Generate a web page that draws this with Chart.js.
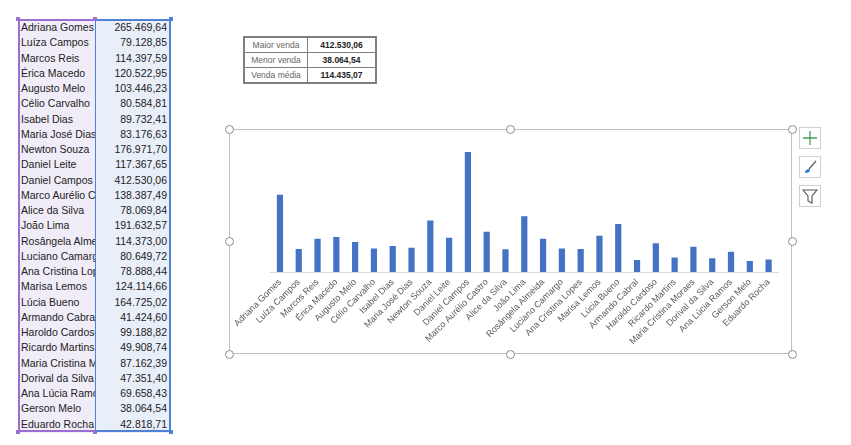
<!DOCTYPE html>
<html>
<head>
<meta charset="utf-8">
<script src="https://cdn.jsdelivr.net/npm/chart.js@4"></script>
<style>
    body { margin: 0; background: #fff; font-family: "Liberation Sans", Arial, sans-serif; }
    #page { position: relative; width: 851px; height: 445px; overflow: hidden; }
    .row { position: absolute; left: 18px; height: 15.8px; font-size: 10.5px; color: #222; line-height: 15.8px; }
    .nome { position: absolute; left: 0; width: 74px; padding-left: 3px; height: 16px; background: #f1edf8; white-space: nowrap; overflow: hidden; }
    .valor { position: absolute; left: 77px; width: 72px; padding-right: 3px; height: 16px; text-align: right; background: #e9eff9; white-space: nowrap; }
    .sel { position: absolute; box-sizing: border-box; }
    .sq { position: absolute; width: 4px; height: 4px; }
    #stats { position: absolute; left: 243px; top: 36px; border-collapse: collapse; border: 2px solid #7f7f7f; font-size: 8.5px; }
    #stats td { border: 1px solid #7f7f7f; height: 14px; padding: 0; text-align: center; }
    #stats td.lbl { width: 62px; color: #666; }
    #stats td.num { width: 67px; color: #222; font-weight: bold; }
    #frame { position: absolute; left: 229px; top: 129px; width: 563px; height: 225px; border: 1px solid #bfbfbf; box-sizing: border-box; }
    #frame canvas { position: absolute; left: 0; top: 0; }
    .handle { position: absolute; width: 7px; height: 7px; border: 1px solid #8c8c8c; border-radius: 50%; background: #fff; }
    .btn { position: absolute; left: 799px; width: 22px; height: 22px; border: 1px solid #d0d0d0; background: #fff; box-sizing: border-box; }
</style>
</head>
<body>
<div id="page">
    <div id="sheet"></div>
    <div class="sel" style="left:18px;top:19px;width:78px;height:413px;border:2px solid #9b6fd1;border-right-width:1px;"></div>
    <div class="sel" style="left:95px;top:19px;width:76px;height:413px;border:2px solid #4f82d4;border-left-width:1px;"></div>

    <table id="stats"></table>

    <div id="frame"><canvas id="vendasChart" width="561" height="223"></canvas></div>

    <div class="btn" style="top:127px;">
        <svg width="20" height="20"><path d="M10 3v14M3 10h14" stroke="#3fa15e" stroke-width="1.3"/></svg>
    </div>
    <div class="btn" style="top:156px;">
        <svg width="20" height="20"><path d="M16 4L9 12" stroke="#555" stroke-width="1.2"/><path d="M5 16c0-3 2-4 4-4l1 1c0 2-2 3-5 3z" fill="#2e7bd6"/></svg>
    </div>
    <div class="btn" style="top:185px;">
        <svg width="20" height="20"><path d="M3 4h14l-5 6v7l-4-2v-5z" fill="none" stroke="#555" stroke-width="1.1"/></svg>
    </div>
</div>

<script>
const nomes = ['Adriana Gomes', 'Luíza Campos', 'Marcos Reis', 'Érica Macedo', 'Augusto Melo', 'Célio Carvalho',
    'Isabel Dias', 'Maria José Dias', 'Newton Souza', 'Daniel Leite', 'Daniel Campos', 'Marco Aurélio Castro',
    'Alice da Silva', 'João Lima', 'Rosângela Almeida', 'Luciano Camargo', 'Ana Cristina Lopes', 'Marisa Lemos',
    'Lúcia Bueno', 'Armando Cabral', 'Haroldo Cardoso', 'Ricardo Martins', 'Maria Cristina Moraes',
    'Dorival da Silva', 'Ana Lúcia Ramos', 'Gerson Melo', 'Eduardo Rocha'];
const vendas = [265469.64, 79128.85, 114397.59, 120522.95, 103446.23, 80584.81, 89732.41, 83176.63,
    176971.70, 117367.65, 412530.06, 138387.49, 78069.84, 191632.57, 114373.00, 80649.72, 78888.44,
    124114.66, 164725.02, 41424.60, 99188.82, 49908.74, 87162.39, 47351.40, 69658.43, 38064.54, 42818.71];
const resumoRotulos = ['Maior venda', 'Menor venda', 'Venda média'];
const resumoValores = [412530.06, 38064.54, 114435.07];

function fmt(v) {
    return v.toLocaleString('pt-BR', { minimumFractionDigits: 2, maximumFractionDigits: 2 });
}

// planilha
let sheet = document.getElementById('sheet');
nomes.forEach((n, i) => {
    sheet.innerHTML += `<div class="row" style="top:${(20 + i * 15.25).toFixed(2)}px">
        <div class="nome">${n}</div><div class="valor">${fmt(vendas[i])}</div></div>`;
});

let stats = document.getElementById('stats');
resumoRotulos.forEach((r, i) => {
    stats.innerHTML += `<tr><td class="lbl">${r}</td><td class="num">${fmt(resumoValores[i])}</td></tr>`;
});

// alças do gráfico
[[0, 0], [0.5, 0], [1, 0], [0, 0.5], [1, 0.5], [0, 1], [0.5, 1], [1, 1]].forEach(p => {
    let h = document.createElement('div');
    h.className = 'handle';
    h.style.left = (229 + p[0] * 563 - 4.5) + 'px';
    h.style.top = (129 + p[1] * 225 - 4.5) + 'px';
    document.getElementById('page').appendChild(h);
});

// pequenos quadrados da seleção
[[16, 17, '#9b6fd1'], [93, 17, '#9b6fd1'], [16, 430, '#9b6fd1'], [93, 430, '#9b6fd1'],
 [169, 17, '#4f82d4'], [169, 430, '#4f82d4']].forEach(s => {
    let q = document.createElement('div');
    q.className = 'sq';
    q.style.left = s[0] + 'px';
    q.style.top = s[1] + 'px';
    q.style.background = s[2];
    document.getElementById('page').appendChild(q);
});

const ctx = document.getElementById('vendasChart').getContext('2d');
const vendasChart = new Chart(ctx, {
    type: 'bar',
    data: {
        labels: nomes,
        datasets: [{
            label: 'Vendas',
            data: vendas,
            backgroundColor: '#4472c4',
            barPercentage: 0.33,
            categoryPercentage: 1
        }]
    },
    options: {
        responsive: false,
        animation: false,
        layout: { padding: { left: 40, right: 13, top: 11, bottom: 0 } },
        plugins: { legend: { display: false }, tooltip: { enabled: false } },
        scales: {
            x: {
                grid: { display: false, drawTicks: false },
                border: { color: '#d9d9d9' },
                ticks: {
                    autoSkip: false,
                    minRotation: 45,
                    maxRotation: 45,
                    padding: 5,
                    color: '#595959',
                    font: { family: 'Liberation Sans', size: 9 }
                },
                afterFit: scale => { scale.height = 81; }
            },
            y: {
                display: false,
                min: 0,
                max: 450000
            }
        }
    }
});
</script>
</body>
</html>
